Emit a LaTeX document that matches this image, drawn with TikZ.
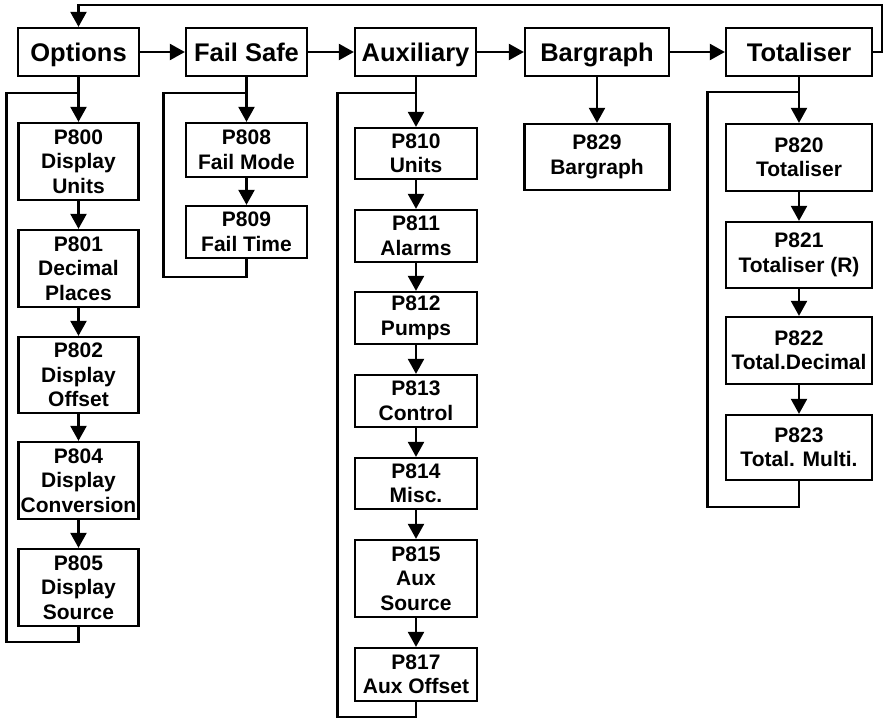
\documentclass[tikz,border=0pt]{standalone}
\usepackage{fontspec}
\setmainfont{Liberation Sans}
\usetikzlibrary{arrows.meta}
\begin{document}
\begin{tikzpicture}[x=1pt,y=-1pt,
  base/.style={draw, line width=2.3pt, inner sep=0pt, align=center},
  topbox/.style={base, minimum height=48pt, text height=18.5pt, text depth=0pt, font=\fontsize{25.5}{28}\selectfont\bfseries},
  pbox/.style={base, font=\fontsize{21}{24.5}\selectfont\bfseries},
  arr/.style={line width=2.3pt, -{Triangle[length=15pt,width=16pt]}},
  ln/.style={line width=2.3pt}]
\useasboundingbox (0,0) rectangle (883,720);
% top row
\node[topbox, minimum width=121pt] (opt) at (78.5,52) {Options};
\node[topbox, minimum width=121pt] (fs) at (246.5,52) {Fail Safe};
\node[topbox, minimum width=121pt] (aux) at (415.5,52) {Auxiliary};
\node[topbox, minimum width=144pt] (bar) at (597,52) {Bargraph};
\node[topbox, minimum width=146pt] (tot) at (799,52) {Totaliser};
\draw[arr] (opt) -- (fs);
\draw[arr] (fs) -- (aux);
\draw[arr] (aux) -- (bar);
\draw[arr] (bar) -- (tot);
\coordinate (fbr) at (882,52);
\coordinate (fbt) at (882,5);
\draw[arr] (tot.east) -- (fbr) -- (fbt) -- (fbt -| opt.north) -- (opt.north);
% Options column
\node[pbox, minimum width=120pt, minimum height=77pt] (p800) at (78.5,161.5) {P800\\Display\\Units};
\node[pbox, minimum width=120pt, minimum height=77pt] (p801) at (78.5,268.5) {P801\\Decimal\\Places};
\node[pbox, minimum width=120pt, minimum height=76pt] (p802) at (78.5,375) {P802\\Display\\Offset};
\node[pbox, minimum width=120pt, minimum height=77pt] (p804) at (78.5,480.5) {P804\\Display\\Conversion};
\node[pbox, minimum width=120pt, minimum height=77pt] (p805) at (78.5,587.5) {P805\\Display\\Source};
\draw[arr] (opt) -- (p800);
\draw[arr] (p800) -- (p801);
\draw[arr] (p801) -- (p802);
\draw[arr] (p802) -- (p804);
\draw[arr] (p804) -- (p805);
\coordinate (os) at (78.5,93);
\coordinate (ol) at (6.5,93);
\coordinate (ob) at (6.5,642);
\draw[ln] (p805.south) -- (p805.south |- ob) -- (ob) -- (ol) -- (os);
% Fail safe column
\node[pbox, minimum width=121pt, minimum height=54pt] (p808) at (246.5,150) {P808\\Fail Mode};
\node[pbox, minimum width=121pt, minimum height=52pt] (p809) at (246.5,232) {P809\\Fail Time};
\draw[arr] (fs) -- (p808);
\draw[arr] (p808) -- (p809);
\coordinate (fss) at (246.5,93);
\coordinate (fsl) at (163.5,93);
\coordinate (fsb) at (163.5,277);
\draw[ln] (p809.south) -- (p809.south |- fsb) -- (fsb) -- (fsl) -- (fss);
% Auxiliary column
\node[pbox, minimum width=122pt, minimum height=51pt] (p810) at (416,153.5) {P810\\Units};
\node[pbox, minimum width=122pt, minimum height=52pt] (p811) at (416,236) {P811\\Alarms};
\node[pbox, minimum width=122pt, minimum height=52pt] (p812) at (416,318) {P812\\Pumps};
\node[pbox, minimum width=122pt, minimum height=52pt] (p813) at (416,401) {P813\\Control};
\node[pbox, minimum width=122pt, minimum height=51pt] (p814) at (416,483.5) {P814\\Misc.};
\node[pbox, minimum width=122pt, minimum height=77pt] (p815) at (416,578.5) {P815\\Aux\\Source};
\node[pbox, minimum width=122pt, minimum height=53pt] (p817) at (416,674.5) {P817\\Aux Offset};
\draw[arr] (aux.south -| p810.north) -- (p810);
\draw[arr] (p810) -- (p811);
\draw[arr] (p811) -- (p812);
\draw[arr] (p812) -- (p813);
\draw[arr] (p813) -- (p814);
\draw[arr] (p814) -- (p815);
\draw[arr] (p815) -- (p817);
\coordinate (as) at (416,93);
\coordinate (al) at (337.5,93);
\coordinate (ab) at (337.5,717);
\draw[ln] (p817.south) -- (p817.south |- ab) -- (ab) -- (al) -- (as);
% Bargraph column
\node[pbox, minimum width=145pt, minimum height=66pt] (p829) at (597,157) {P829\\Bargraph};
\draw[arr] (bar) -- (p829);
% Totaliser column
\node[pbox, minimum width=146pt, minimum height=67pt] (p820) at (799,157.5) {P820\\Totaliser};
\node[pbox, minimum width=146pt, minimum height=66pt] (p821) at (799,255) {P821\\Totaliser (R)};
\node[pbox, minimum width=146pt, minimum height=67pt] (p822) at (799,350.5) {P822\\Total.Decimal};
\node[pbox, minimum width=146pt, minimum height=65pt] (p823) at (799,447.5) {P823\\Total. Multi.};
\draw[arr] (tot) -- (p820);
\draw[arr] (p820) -- (p821);
\draw[arr] (p821) -- (p822);
\draw[arr] (p822) -- (p823);
\coordinate (ts) at (799,92);
\coordinate (tl) at (707.5,92);
\coordinate (tb) at (707.5,507);
\draw[ln] (p823.south) -- (p823.south |- tb) -- (tb) -- (tl) -- (ts);
\end{tikzpicture}
\end{document}
